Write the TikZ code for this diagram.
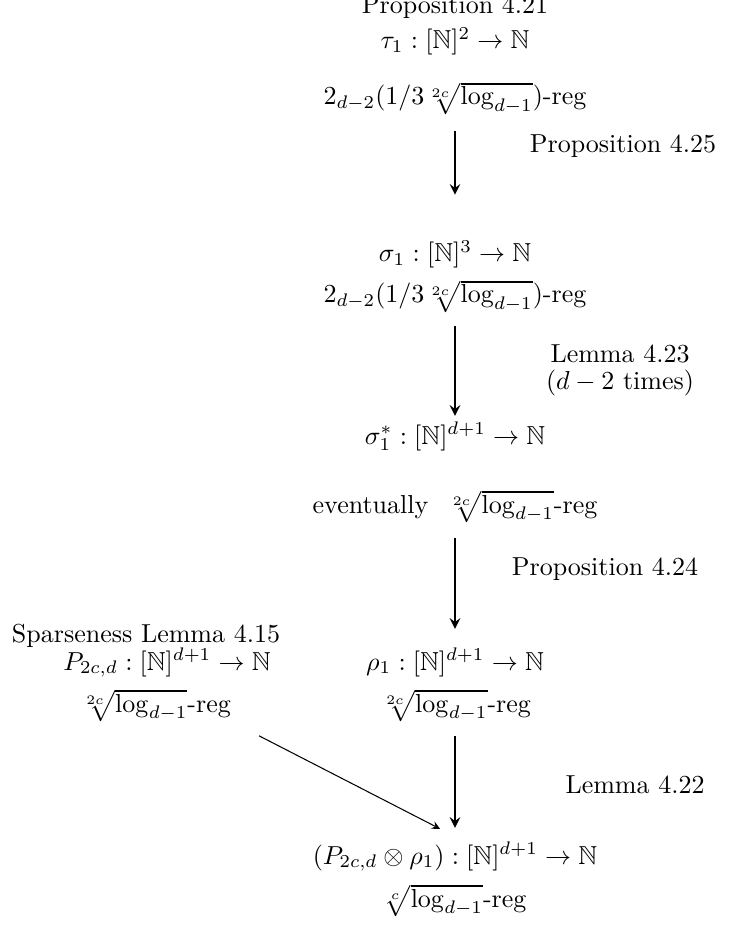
\documentclass[tikz,border=0pt]{standalone}
\usepackage{amsmath,amssymb}
\begin{document}
\begin{tikzpicture}[x=0.01352cm,y=-0.01352cm,
    lbl/.style={anchor=base,inner sep=1pt}]
      \useasboundingbox (0,0) rectangle (734,926);
      \draw
        (455,14) node[lbl] (p421){Proposition 4.21}
        (455,49) node[lbl] (tau){$\tau_1:[\mathbb{N}]^2\to\mathbb{N}$}
        (455,105) node[lbl] (rega){$2_{d-2}(1/3\sqrt[2c]{\log_{d-1}})$-reg}
        (455,262) node[lbl] (sigma){$\sigma_1:[\mathbb{N}]^3\to\mathbb{N}$}
        (455,303) node[lbl] (regb){$2_{d-2}(1/3\sqrt[2c]{\log_{d-1}})$-reg}
        (455,444) node[lbl] (sigmas){$\sigma_1^*:[\mathbb{N}]^{d+1}\to\mathbb{N}$}
        (455,513) node[lbl] (regc){eventually\ \ $\sqrt[2c]{\log_{d-1}}$-reg}
        (146,642) node[lbl] (spl){Sparseness Lemma 4.15}
        (167,670) node[lbl] (pcd){$P_{2c,d}:[\mathbb{N}]^{d+1}\to\mathbb{N}$}
        (155,712) node[lbl] (regp){$\sqrt[2c]{\log_{d-1}}$-reg}
        (455,670) node[lbl] (rho){$\rho_1:[\mathbb{N}]^{d+1}\to\mathbb{N}$}
        (455,712) node[lbl] (regr){$\sqrt[2c]{\log_{d-1}}$-reg}
        (455,864) node[lbl] (prod){$(P_{2c,d}\otimes\rho_1):[\mathbb{N}]^{d+1}\to\mathbb{N}$}
        (455,907) node[lbl] (regf){$\sqrt[c]{\log_{d-1}}$-reg};
      \draw
        (623,153) node[lbl] (l425){Proposition 4.25}
        (620,362) node[lbl] (l423){Lemma 4.23}
        (620,389) node[lbl] (l423b){$(d-2$ times$)$}
        (605,575) node[lbl] (l424){Proposition 4.24}
        (635,793) node[lbl] (l422){Lemma 4.22};
      \begin{scope}[-stealth]
        \draw[thick] ([shift={(0,13)}]rega.south) to ([shift={(0,-43)}]sigma.north);
        \draw[thick] ([shift={(0,10)}]regb.south) to ([shift={(0,-3)}]sigmas.north);
        \draw[thick] ([shift={(0,12)}]regc.south) to ([shift={(0,-16)}]rho.north);
        \draw[thick] ([shift={(0,11)}]regr.south) to ([shift={(0,-11)}]prod.north);
        \draw ([shift={(25,11)}]regp.south east) to ([shift={(-15,-10)}]prod.north);
      \end{scope}
    \end{tikzpicture}
\end{document}
